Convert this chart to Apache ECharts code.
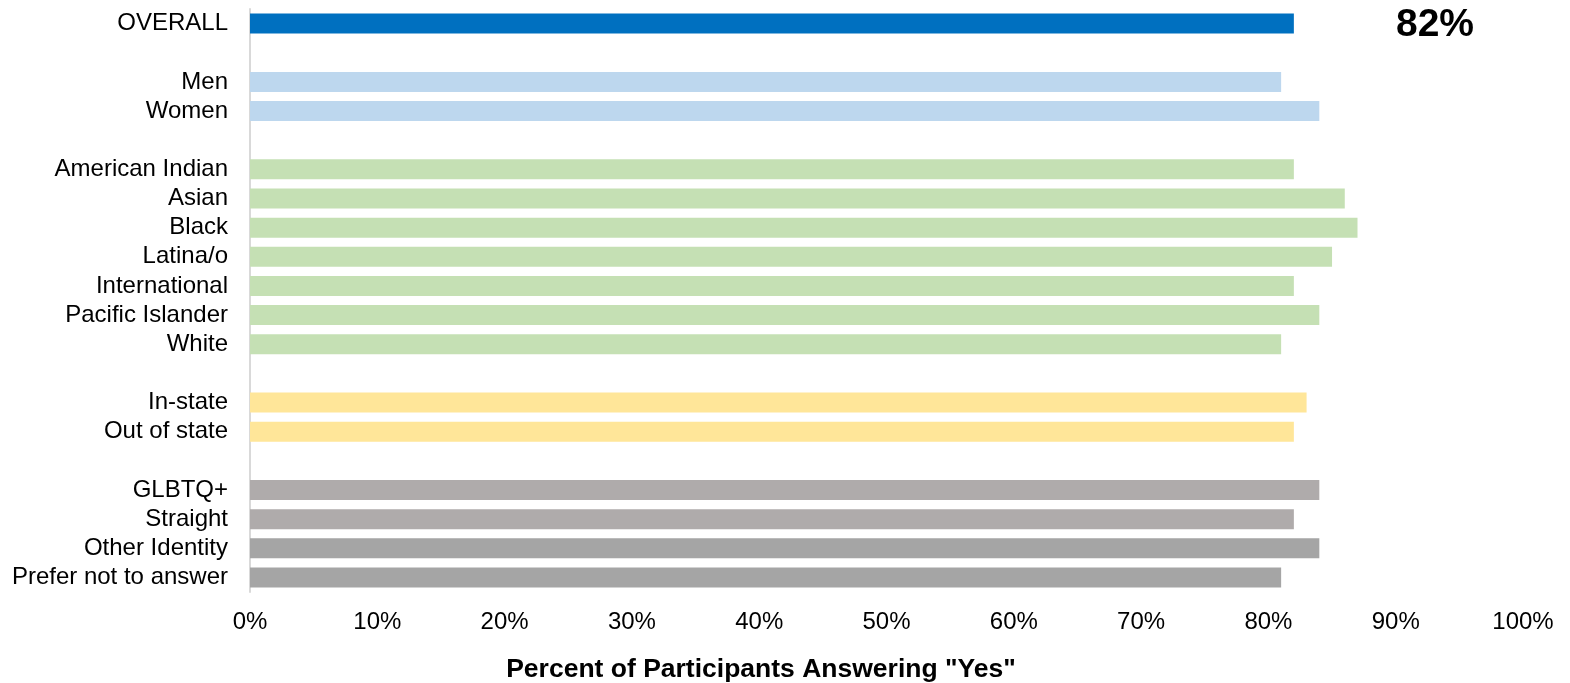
<!DOCTYPE html>
<html>
<head>
<meta charset="utf-8">
<script src="https://cdn.jsdelivr.net/npm/echarts@6/dist/echarts.min.js"></script>
<style>
html,body{margin:0;padding:0;background:#fff;}
#chart{width:1570px;height:683px;}
</style>
</head>
<body>
<div id="chart"></div>
<script>
// ---- data ----
const categories = ['OVERALL', '', 'Men', 'Women', '', 'American Indian', 'Asian', 'Black', 'Latina/o', 'International', 'Pacific Islander', 'White', '', 'In-state', 'Out of state', '', 'GLBTQ+', 'Straight', 'Other Identity', 'Prefer not to answer'];
const values = [82, null, 81, 84, null, 82, 86, 87, 85, 82, 84, 81, null, 83, 82, null, 84, 82, 84, 81];
const groups = ['overall', '', 'gender', 'gender', '', 'race', 'race', 'race', 'race', 'race', 'race', 'race', '', 'state', 'state', '', 'orient', 'orient', 'other', 'other'];
const xTicks = [0, 10, 20, 30, 40, 50, 60, 70, 80, 90, 100];
const axisTitle = 'Percent of Participants Answering "Yes"';
const overallValue = 82;

// ---- styles ----
const groupColors = {
  overall: '#0070C0',
  gender: '#BDD7EE',
  race: '#C5E0B4',
  state: '#FFE699',
  orient: '#AFABAB',
  other: '#A5A5A5'
};
const FONT = "'Liberation Sans', Arial, Helvetica, sans-serif";

const seriesData = values.map((v, i) => ({
  value: v === null ? '-' : v,
  itemStyle: { color: groupColors[groups[i]] || '#fff' }
}));

const chart = echarts.init(document.getElementById('chart'), null, { renderer: 'canvas' });
chart.setOption({
  animation: false,
  backgroundColor: '#fff',
  textStyle: { fontFamily: FONT },
  grid: { left: 250, right: 47, top: 9, bottom: 91, containLabel: false },
  xAxis: {
    type: 'value',
    min: xTicks[0],
    max: xTicks[xTicks.length - 1],
    interval: xTicks[1] - xTicks[0],
    axisLine: { show: false },
    axisTick: { show: false },
    splitLine: { show: false },
    axisLabel: {
      formatter: '{value}%',
      fontSize: 24,
      color: '#000',
      fontFamily: FONT,
      margin: 18
    }
  },
  yAxis: {
    type: 'category',
    data: categories,
    inverse: true,
    axisLine: { show: true, lineStyle: { color: '#D9D9D9', width: 2 } },
    axisTick: { show: false },
    splitLine: { show: false },
    axisLabel: {
      fontSize: 24,
      color: '#000',
      fontFamily: FONT,
      margin: 22,
      padding: [6, 0, 0, 0],
      interval: 0
    }
  },
  series: [{
    type: 'bar',
    data: seriesData,
    barWidth: 20,
    silent: true
  }],
  graphic: [
    {
      type: 'text',
      x: 1435,
      y: 25,
      style: {
        text: overallValue + '%',
        fontSize: 39,
        fontWeight: 'bold',
        fontFamily: FONT,
        fill: '#000',
        align: 'center',
        verticalAlign: 'middle'
      }
    },
    {
      type: 'text',
      x: 761,
      y: 670,
      style: {
        text: axisTitle,
        fontSize: 26.5,
        fontWeight: 'bold',
        fontFamily: FONT,
        fill: '#000',
        align: 'center',
        verticalAlign: 'middle'
      }
    }
  ]
});
</script>
</body>
</html>
